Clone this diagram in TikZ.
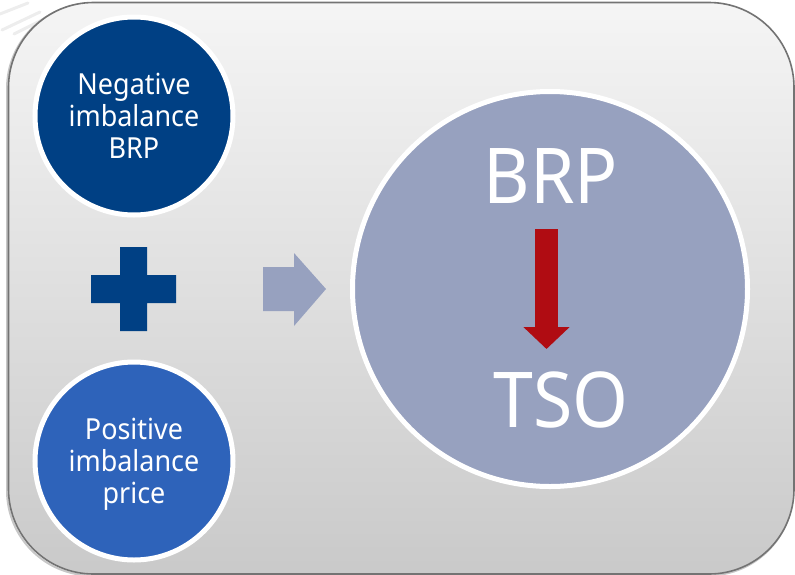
\documentclass[tikz,border=0pt]{standalone}
\usepackage{fontspec}
\setmainfont{Noto Sans}
\newfontfamily\narrowfont[FakeStretch=0.93]{Noto Sans}
\usetikzlibrary{arrows.meta,shadows}
\definecolor{navy}{HTML}{004084}
\definecolor{midblue}{HTML}{2E63BA}
\definecolor{slateblue}{HTML}{97A1BF}
\definecolor{redarrow}{HTML}{B00C12}
\tikzset{
  panel/.style={draw=black!55,line width=1.6pt,rounded corners=85pt,top color=black!4,bottom color=black!21},
  panelshadow/.style={draw=black!22,line width=2pt,rounded corners=85pt},
  smudge/.style={black!7,line width=3pt,line cap=round},
  disc/.style={circle,draw=white,line width=5pt,minimum size=198pt,inner sep=0pt,text=white,align=center,font=\narrowfont\fontsize{29}{32}\selectfont},
  bigtext/.style={text=white,inner sep=0pt,font=\narrowfont\fontsize{77}{77}\selectfont},
  blockarrow/.style={line width=23pt,draw=redarrow,-{Triangle[length=22pt,width=45pt,fill=redarrow]}}
}
\begin{document}
\begin{tikzpicture}[x=1pt,y=-1pt]
\useasboundingbox (0,0) rectangle (795,574);
\clip (0,0) rectangle (795,574);
\draw[smudge] (2,30) -- (40,12);
\draw[smudge] (14,34) -- (70,6);
\draw[smudge] (0,14) -- (28,3);
\path[panelshadow] (7,3.5) rectangle (793,575.5);
\path[panel] (8.5,2.5) rectangle (794,574);
\node[disc,fill=navy] (neg) at (134,116) {Negative\\imbalance\\BRP};
\node[disc,fill=midblue] (pos) at (134,461) {Positive\\imbalance\\\raisebox{0pt}[\height][0pt]{price}};
\node[disc,fill=slateblue,minimum size=395pt] (big) at (550,289) {};
\node[bigtext,anchor=base] (brp) at (551,203) {BRP};
\node[bigtext,anchor=base] (tso) at (561,427) {TSO};
\fill[navy] (120,247) -- (147,247) -- (147,275) -- (176,275) -- (176,303) -- (147,303) -- (147,331) -- (120,331) -- (120,303) -- (91,303) -- (91,275) -- (120,275) -- cycle;
\fill[slateblue] (263,267) -- (294,267) -- (294,253) -- (326,289) -- (294,326) -- (294,311) -- (263,311) -- cycle;
\coordinate (from) at (546.5,229);
\coordinate (to) at (546.5,349);
\draw[blockarrow] (from) -- (to);
\end{tikzpicture}
\end{document}
